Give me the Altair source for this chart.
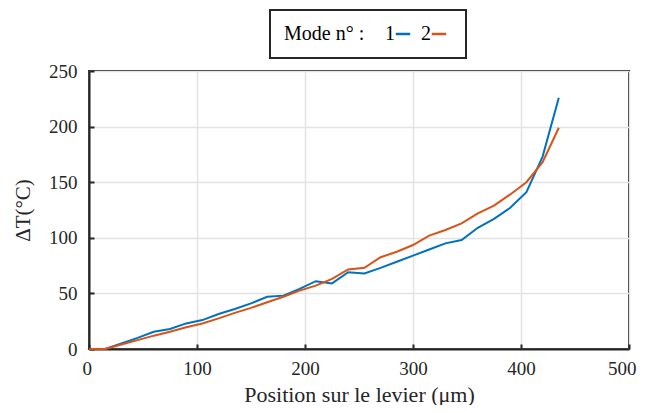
import altair as alt
import pandas as pd

# Position along the lever (µm)
positions = [0, 15, 30, 45, 60, 75, 90, 105, 120, 135, 150, 165, 180, 195, 210,
             225, 240, 255, 270, 285, 300, 315, 330, 345, 360, 375, 390, 405, 420, 435]
# Temperature rise (°C) for each mode
mode1 = [0, 0, 5, 10, 15.5, 18, 23, 26, 31.5, 36, 41, 47, 48, 54, 61,
         59, 69, 68, 73, 78.5, 84, 89.5, 95, 98, 109, 117, 127, 141, 173, 226]
mode2 = [0, 0, 4, 8, 12, 15.5, 19.5, 23, 27.5, 32.5, 37, 42, 47, 52.5, 57,
         63, 71.5, 73, 82.5, 87.5, 93.5, 102, 107, 113, 122, 129, 139, 150, 168, 199]
modes = ["1", "2"]
colors = ["#0072BD", "#D95319"]
x_ticks = [0, 100, 200, 300, 400, 500]
y_ticks = [0, 50, 100, 150, 200, 250]

rows = []
for m, series in zip(modes, [mode1, mode2]):
    for x, y in zip(positions, series):
        rows.append({"x": x, "y": y, "mode": m})
df = pd.DataFrame(rows)

FONT = "Liberation Serif, DejaVu Serif, Noto Serif, serif"
INK = "#262626"

chart = alt.Chart(df).mark_line(strokeWidth=2).encode(
    x=alt.X("x:Q",
            scale=alt.Scale(domain=[0, 500], nice=False),
            axis=alt.Axis(values=x_ticks, title="Position sur le levier (μm)",
                          labelPadding=15, titlePadding=6,
                          labelFlush=True, labelFlushOffset=7)),
    y=alt.Y("y:Q",
            scale=alt.Scale(domain=[0, 250], nice=False),
            axis=alt.Axis(values=y_ticks, title="ΔT(°C)", titleFontSize=21,
                          labelPadding=17, titlePadding=15)),
    color=alt.Color("mode:N",
                    scale=alt.Scale(domain=modes, range=colors),
                    legend=alt.Legend(
                        title="Mode n° :", orient="none", direction="horizontal",
                        legendX=181, legendY=-61, titleOrient="left",
                        titlePadding=28, symbolType="stroke", symbolSize=210,
                        symbolStrokeWidth=2.5, labelAlign="right",
                        labelOffset={"expr": "-18"},
                        columnPadding=5, padding=14, fillColor="white",
                        strokeColor=INK)),
    order="x:Q",
).properties(
    width=540, height=278,
    autosize=alt.AutoSizeParams(type="none"),
    padding={"left": 81, "top": 63, "right": 10, "bottom": 56},
).configure_view(
    stroke=INK, strokeWidth=2
).configure_axis(
    labelFont=FONT, titleFont=FONT, labelFontSize=19, titleFontSize=22,
    labelColor=INK, titleColor=INK, titleFontWeight="normal",
    domainColor=INK, domainWidth=2,
    ticks=True, tickSize={"expr": "-5"}, tickColor=INK, tickWidth=2,
    gridColor="#e3e3e3", gridWidth=1.5,
).configure_legend(
    titleFont=FONT, labelFont=FONT, titleFontSize=20, labelFontSize=20,
    titleColor="black", labelColor="black", titleFontWeight="normal",
    strokeWidth=2,
)

chart.save("out.html", embed_options={"renderer": "svg", "actions": False})
